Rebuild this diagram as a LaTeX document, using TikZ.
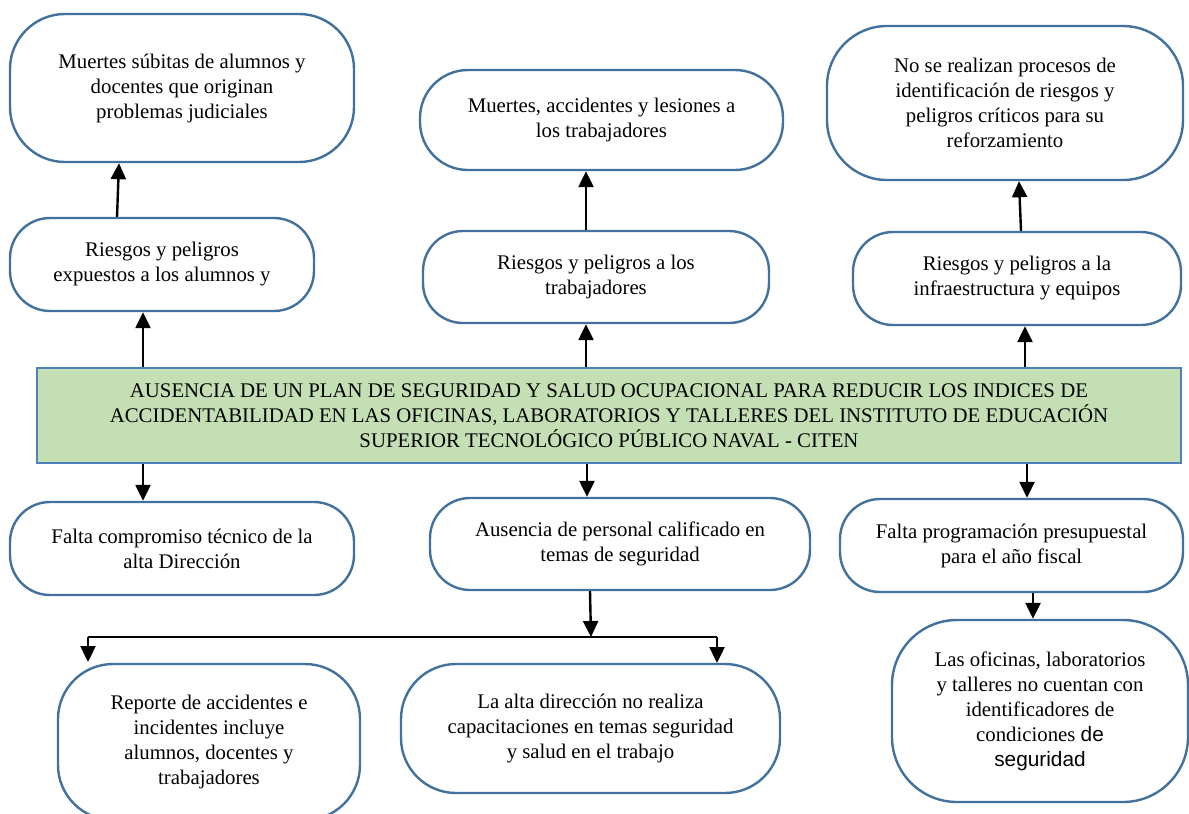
\documentclass[tikz,border=0pt]{standalone}
\usepackage{fontspec}
\setmainfont{Liberation Serif}
\setsansfont{Liberation Sans}
\usetikzlibrary{arrows.meta}
\definecolor{boxblue}{HTML}{41719C}
\definecolor{mainblue}{HTML}{4F81BD}
\definecolor{maingreen}{HTML}{C4DFB4}
\tikzset{
  rbox/.style={draw=boxblue, line width=2.4pt, fill=white, align=center, inner sep=2pt,
    font=\fontsize{20.8}{25}\selectfont},
  mainbox/.style={draw=mainblue, line width=2.8pt, fill=maingreen, align=center, inner sep=2pt,
    font=\fontsize{20.8}{25}\selectfont},
  arr/.style={line width=2.4pt, -{Triangle[width=15pt,length=16pt]}},
  plain/.style={line width=2.4pt}
}
\begin{document}
\begin{tikzpicture}[x=1pt,y=-1pt]
\useasboundingbox (0,0) rectangle (1189,814);
\clip (0,0) rectangle (1189,814);
% top row (effects)
\node[rbox, rounded corners=55pt, minimum width=344pt, minimum height=148pt] (a1) at (182,88)
  {Muertes súbitas de alumnos y\\docentes que originan\\problemas judiciales};
\node[rbox, rounded corners=48pt, minimum width=363pt, minimum height=100pt] (a2) at (601.5,120)
  {Muertes, accidentes y lesiones a\\los trabajadores};
\node[rbox, rounded corners=60pt, minimum width=356pt, minimum height=154pt] (a3) at (1005,103)
  {No se realizan procesos de\\identificación de riesgos y\\peligros críticos para su\\reforzamiento};
% second row
\node[rbox, rounded corners=40pt, minimum width=304pt, minimum height=93pt] (b1) at (162,264.5)
  {Riesgos y peligros\\expuestos a los alumnos y};
\node[rbox, rounded corners=40pt, minimum width=346pt, minimum height=92pt] (b2) at (596,277)
  {Riesgos y peligros a los\\trabajadores};
\node[rbox, rounded corners=40pt, minimum width=328pt, minimum height=93pt] (b3) at (1017,278.5)
  {Riesgos y peligros a la\\infraestructura y equipos};
% central problem
\node[mainbox, minimum width=1144pt, minimum height=95pt] (m) at (609,415.5)
  {AUSENCIA DE UN PLAN DE SEGURIDAD Y SALUD OCUPACIONAL PARA REDUCIR LOS INDICES DE\\
   ACCIDENTABILIDAD EN LAS OFICINAS, LABORATORIOS Y TALLERES DEL INSTITUTO DE EDUCACIÓN\\
   SUPERIOR TECNOLÓGICO PÚBLICO NAVAL - CITEN};
% causes
\node[rbox, rounded corners=40pt, minimum width=344pt, minimum height=93pt] (c1) at (182,548.5)
  {Falta compromiso técnico de la\\alta Dirección};
\node[rbox, rounded corners=40pt, minimum width=380pt, minimum height=92pt] (c2) at (620,544)
  {Ausencia de personal calificado en\\temas de seguridad};
\node[rbox, rounded corners=40pt, minimum width=343pt, minimum height=93pt] (c3) at (1011.5,545.5)
  {Falta programación presupuestal\\para el año fiscal};
% sub-causes
\node[rbox, rounded corners=55pt, minimum width=302pt, minimum height=156pt] (d1) at (209,742)
  {Reporte de accidentes e\\incidentes incluye\\alumnos, docentes y\\trabajadores};
\node[rbox, rounded corners=55pt, minimum width=379pt, minimum height=129pt] (d2) at (590.5,728.5)
  {La alta dirección no realiza\\capacitaciones en temas seguridad\\y salud en el trabajo};
\node[rbox, rounded corners=65pt, minimum width=296pt, minimum height=182pt] (d3) at (1040,711)
  {Las oficinas, laboratorios\\y talleres no cuentan con\\identificadores de\\condiciones {\sffamily de}\\{\sffamily seguridad}};
% connectors upward
\draw[arr] ([xshift=-45pt]b1.north) -- ([xshift=-63pt]a1.south);
\draw[arr] ([xshift=-466pt]m.north) -- ([xshift=-19pt]b1.south);
\draw[arr] ([xshift=-10pt]b2.north) -- ([xshift=-15.5pt]a2.south);
\draw[arr] ([xshift=-23pt]m.north) -- ([xshift=-10pt]b2.south);
\draw[arr] ([xshift=4pt]b3.north) -- ([xshift=14pt]a3.south);
\draw[arr] ([xshift=416pt]m.north) -- ([xshift=8pt]b3.south);
% connectors downward
\draw[arr] ([xshift=-466pt]m.south) -- ([xshift=-39pt]c1.north);
\draw[arr] ([xshift=-22pt]m.south) -- ([xshift=-33pt]c2.north);
\draw[arr] ([xshift=418pt]m.south) -- ([xshift=15.5pt]c3.north);
\coordinate (j) at (591,637);
\coordinate (jl) at (88,637);
\coordinate (jr) at (717,637);
\draw[arr] ([xshift=-30pt]c2.south) -- (j);
\draw[plain] (jl) -- (jr);
\draw[arr] (jl) -- (88,662);
\draw[arr] (jr) -- (717,663);
\draw[arr] ([xshift=21.5pt]c3.south) -- ([xshift=-7pt]d3.north);
\end{tikzpicture}
\end{document}
